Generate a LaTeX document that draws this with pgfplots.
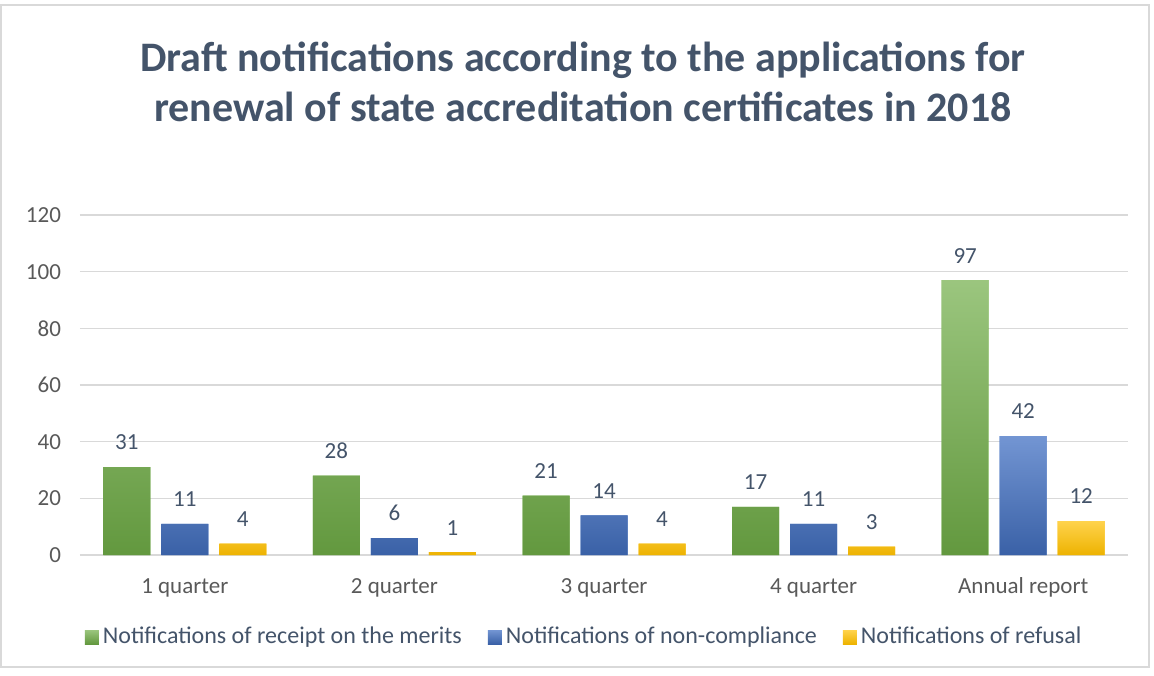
\documentclass[border=0pt]{standalone}
\usepackage{pgfplots}
\pgfplotsset{compat=1.18}
\usepackage{fontspec}
\setmainfont{Carlito}
\definecolor{txt}{HTML}{44546A}
\definecolor{tick}{HTML}{595959}
\definecolor{gridc}{HTML}{D9D9D9}
\definecolor{gA}{HTML}{70AD47}
\definecolor{bA}{HTML}{4472C4}
\definecolor{yA}{HTML}{FFC000}

\begin{document}
\begin{tikzpicture}
% page size: 1154 x 675 px at 0.5pt per px
\path[use as bounding box] (-40pt,-60pt) rectangle (537pt,277.5pt);
\draw[gridc, line width=0.8pt] (-39.5pt,-56pt) rectangle (534.5pt,275pt);
\begin{axis}[
  at={(0,0)}, anchor=south west,
  scale only axis, width=524pt, height=170pt,
  ybar=5.5pt, bar width=23.5pt,
  xmin=-0.5, xmax=4.5, ymin=0, ymax=120,
  xtick=data,
  xticklabels={1 quarter,2 quarter,3 quarter,4 quarter,Annual report},
  ytick={0,20,...,120},
  ymajorgrids, grid style={gridc, line width=0.8pt},
  axis x line*=bottom, axis y line*=left,
  x axis line style={gridc, line width=0.8pt, -},
  y axis line style={draw=none},
  major tick length=0pt,
  tick label style={font=\fontsize{11.5}{13}\selectfont, text=tick},
  /pgf/number format/assume math mode=true,
  xticklabel style={yshift=-8pt, text height=0.75em, text depth=0.25em},
  yticklabel style={xshift=-6pt},
  nodes near coords,
  every node near coord/.append style={font=\fontsize{11.5}{13}\selectfont, text=txt, yshift=5pt},
  legend style={draw=none, at={(0.482,-41pt)}, anchor=center, legend columns=-1,
    font=\fontsize{12}{14}\selectfont, text=txt,
    /tikz/every even column/.append style={column sep=11pt}},
  legend image code/.code={\fill[#1] (0pt,-3.5pt) rectangle (7pt,3.5pt);},
]
\addplot[draw=none, top color=gA!70!white, middle color=gA!95!white, bottom color=gA!88!black, fill=gA] coordinates {(0,31) (1,28) (2,21) (3,17) (4,97)};
\addlegendentry{Notifications of receipt on the merits}
\addplot[draw=none, top color=bA!75!white, middle color=bA, bottom color=bA!85!black, fill=bA] coordinates {(0,11) (1,6) (2,14) (3,11) (4,42)};
\addlegendentry{Notifications of non-compliance}
\addplot[draw=none, top color=yA!70!white, middle color=yA, bottom color=yA!93!black, fill=yA] coordinates {(0,4) (1,1) (2,4) (3,3) (4,12)};
\addlegendentry{Notifications of refusal}
\end{axis}
\node[align=center, text=txt, font=\fontsize{21}{25}\selectfont\bfseries] at (251.5pt,236.5pt)
  {Draft notifications according to the applications for\\renewal of state accreditation certificates in 2018};
\end{tikzpicture}
\end{document}
